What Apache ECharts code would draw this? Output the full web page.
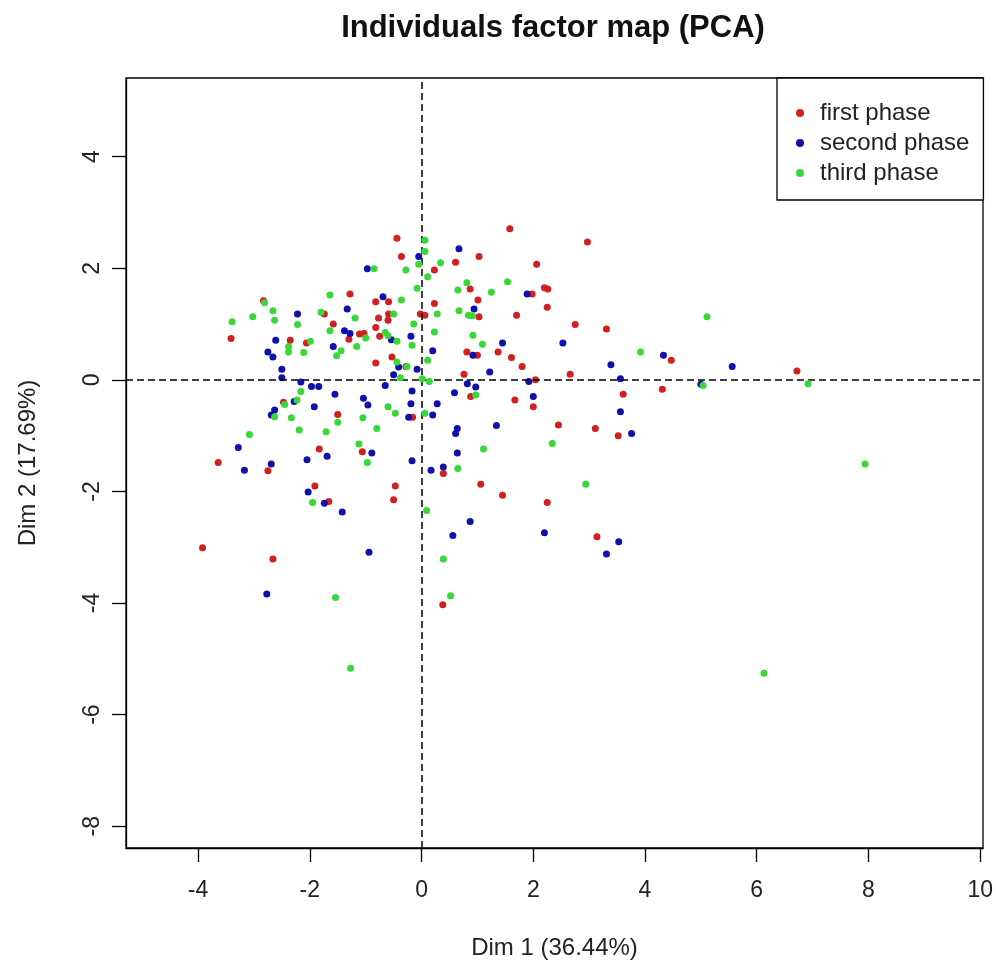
<!DOCTYPE html>
<html>
<head>
<meta charset="utf-8">
<script src="https://cdn.jsdelivr.net/npm/echarts@6/dist/echarts.min.js"></script>
<style>html,body{margin:0;padding:0;background:#fff;}#c{width:996px;height:969px;}</style>
</head>
<body>
<div id="c"></div>
<script>
const titleText = 'Individuals factor map (PCA)';
const xName = 'Dim 1 (36.44%)';
const yName = 'Dim 2 (17.69%)';
const seriesNames = ['first phase', 'second phase', 'third phase'];
const xTicks = [-4, -2, 0, 2, 4, 6, 8, 10];
const yTicks = [-8, -6, -4, -2, 0, 2, 4];

const firstPhase = [
  [-1.28,1.54],[-0.82,1.40],[-2.83,1.42],[-1.74,1.18],[-1.58,1.00],[-1.11,0.82],[-1.03,0.83],[-1.30,0.73],
  [-0.82,0.94],[-3.41,0.74],[-2.35,0.71],[-2.06,0.66],[-0.82,0.30],
  [1.58,2.71],[-0.44,2.54],[-0.36,2.21],[1.03,2.21],[0.61,2.11],[0.23,1.97],[2.06,2.07],[0.87,1.63],
  [2.20,1.65],[2.26,1.63],[1.98,1.54],[-0.59,1.40],[0.23,1.37],[1.01,1.43],[2.25,1.30],[-0.02,1.18],
  [0.06,1.16],[1.03,1.13],[-0.59,1.18],[-0.77,1.11],[-0.60,1.07],[1.70,1.16],[-0.75,0.78],[0.81,0.50],
  [1.00,0.44],[1.37,0.50],[1.61,0.40],[-0.53,0.41],[-0.28,0.24],[1.80,0.24],[0.76,0.10],[2.04,0.00],
  [0.88,-0.30],[1.67,-0.36],
  [2.97,2.47],[2.75,0.99],[3.31,0.91],[4.47,0.35],[2.66,0.10],[4.31,-0.17],[3.61,-0.26],
  [6.72,0.16],
  [-2.47,-0.40],[-1.50,-0.62],[-1.06,-1.29],[-1.83,-1.24],[-3.64,-1.48],[-2.75,-1.63],[-1.91,-1.90],
  [-1.66,-2.18],[-3.92,-3.01],[-2.66,-3.21],
  [-0.16,-0.67],[2.00,-0.48],[0.39,-1.68],[-0.47,-1.90],[-0.50,-2.15],[1.06,-1.87],[1.45,-2.07],[2.25,-2.20],
  [2.45,-0.81],[3.11,-0.87],[3.52,-1.00],[3.14,-2.81],
  [0.38,-4.03]
];

const secondPhase = [
  [-0.97,1.99],[-2.22,1.18],[-1.33,1.27],[-1.38,0.88],[-1.28,0.83],[-2.61,0.71],[-2.75,0.50],[-2.66,0.41],
  [-1.58,0.60],[-2.50,0.19],[-2.50,0.04],[-2.16,-0.04],[-1.97,-0.12],[-1.84,-0.12],[-1.55,-0.26],[-1.04,-0.33],
  [0.67,2.35],[-0.05,2.21],[1.89,1.54],[-0.69,1.49],[0.94,1.27],[-0.54,0.72],[-0.19,0.78],[1.45,0.66],
  [0.20,0.52],[0.92,0.44],[-0.41,0.23],[-0.08,0.19],[-0.50,0.09],[1.22,0.14],[-0.65,-0.10],[0.82,-0.07],
  [0.97,-0.13],[1.92,-0.03],[-0.17,-0.20],[0.59,-0.23],[2.00,-0.30],
  [2.53,0.66],[4.33,0.44],[3.39,0.27],[3.56,0.02],[5.56,0.24],[5.00,-0.08],
  [-2.63,-0.54],[-2.69,-0.63],[-2.28,-0.39],[-1.92,-0.48],[-0.96,-0.45],[-3.28,-1.21],[-0.89,-1.31],
  [-1.69,-1.37],[-2.05,-1.43],[-3.17,-1.62],[-2.69,-1.51],[-2.03,-2.01],[-1.74,-2.21],[-1.42,-2.37],[-0.94,-3.09],
  [-0.19,-0.43],[-0.23,-0.67],[0.28,-0.43],[0.20,-0.63],[0.64,-0.87],[0.61,-0.96],[1.34,-0.82],[0.64,-1.31],
  [-0.17,-1.45],[0.17,-1.62],[0.39,-1.56],[0.87,-2.54],[0.56,-2.79],[2.20,-2.74],
  [3.56,-0.57],[3.76,-0.96],[3.53,-2.90],[3.31,-3.12],
  [-2.77,-3.84]
];

const thirdPhase = [
  [-0.85,1.99],[-1.64,1.52],[-2.81,1.38],[-2.66,1.24],[-3.02,1.13],[-3.39,1.04],[-2.63,1.07],[-2.22,0.99],
  [-1.80,1.21],[-1.19,1.11],[-1.64,0.88],[-1.00,0.75],[-2.38,0.60],[-2.38,0.50],[-1.99,0.69],[-2.11,0.49],
  [-1.44,0.52],[-1.52,0.43],[-1.16,0.60],[-2.16,-0.21],
  [0.06,2.50],[0.06,2.30],[-0.05,2.07],[0.34,2.10],[-0.28,1.97],[0.11,1.85],[1.54,1.76],[0.81,1.74],
  [0.65,1.61],[1.25,1.57],[-0.08,1.64],[-0.36,1.43],[0.67,1.24],[0.28,1.18],[0.84,1.16],[0.91,1.15],
  [-0.50,1.18],[-0.14,1.00],[-0.65,0.85],[-0.60,0.79],[-0.44,0.69],[0.23,0.86],[0.92,0.80],[-0.17,0.62],
  [1.09,0.64],[0.11,0.35],[-0.44,0.32],[-0.26,0.24],[-0.38,0.04],[0.01,0.02],[0.14,-0.03],[0.97,-0.27],
  [5.11,1.13],[3.92,0.50],[5.04,-0.10],
  [6.92,-0.07],[7.94,-1.51],
  [-2.45,-0.44],[-2.23,-0.36],[-2.63,-0.66],[-2.33,-0.68],[-1.50,-0.76],[-1.05,-0.68],[-2.19,-0.90],
  [-1.71,-0.93],[-3.08,-0.98],[-1.12,-1.15],[-0.97,-1.48],[-1.95,-2.20],[-0.80,-0.87],
  [-0.60,-0.48],[-0.47,-0.60],[0.06,-0.60],[1.11,-1.24],[2.34,-1.14],[0.65,-1.59],[0.09,-2.34],[0.39,-3.21],
  [2.94,-1.87],
  [-1.54,-3.90],[-1.27,-5.17],[0.52,-3.87],[6.13,-5.26]
];

const colors = ['#d21f1f', '#0f0fae', '#38d838'];
const fontFam = '"Liberation Sans", Arial, sans-serif';

const chart = echarts.init(document.getElementById('c'), null, {renderer: 'canvas'});
const seriesData = [firstPhase, secondPhase, thirdPhase];
const series = seriesData.map((d, i) => ({
  name: seriesNames[i],
  type: 'scatter',
  data: d,
  symbol: 'circle',
  symbolSize: 7,
  itemStyle: {color: colors[i], opacity: 1},
  emphasis: {disabled: true},
  animation: false,
  z: 3 + i
}));
series[0].markLine = {
  silent: true,
  symbol: ['none', 'none'],
  label: {show: false},
  animation: false,
  lineStyle: {type: [7, 4], color: '#000', width: 1.5},
  emphasis: {disabled: true},
  data: [{xAxis: 0}, {yAxis: 0}]
};

chart.setOption({
  backgroundColor: '#fff',
  animation: false,
  title: {
    text: titleText,
    left: 548, textAlign: 'center', top: 8,
    textStyle: {fontFamily: fontFam, fontSize: 31, fontWeight: 'bold', color: '#111'}
  },
  legend: {
    orient: 'vertical',
    left: 777, top: 78,
    padding: [23, 14, 15, 19],
    itemGap: 6,
    itemWidth: 8, itemHeight: 8,
    icon: 'circle',
    borderColor: '#000', borderWidth: 1.3,
    backgroundColor: '#fff',
    textStyle: {fontFamily: fontFam, fontSize: 24, lineHeight: 22, color: '#222', padding: [0, 0, 0, 11]},
    data: seriesNames,
    selectedMode: false
  },
  grid: {
    left: 126, right: 12, top: 78, bottom: 121,
    show: true, borderColor: '#000', borderWidth: 1.3, backgroundColor: 'transparent'
  },
  xAxis: {
    type: 'value', min: -5.29, max: 10.05,
    name: xName, nameLocation: 'middle', nameGap: 88,
    nameTextStyle: {fontFamily: fontFam, fontSize: 24, color: '#222'},
    axisLine: {show: true, onZero: false, lineStyle: {color: '#000', width: 1.3}},
    axisTick: {show: true, length: 14, lineStyle: {color: '#000', width: 1.3}, customValues: xTicks},
    axisLabel: {fontFamily: fontFam, fontSize: 23, color: '#222', margin: 31, customValues: xTicks},
    splitLine: {show: false}
  },
  yAxis: {
    type: 'value', min: -8.39, max: 5.41,
    name: yName, nameLocation: 'middle', nameGap: 86, nameRotate: 90,
    nameTextStyle: {fontFamily: fontFam, fontSize: 24, color: '#222'},
    axisLine: {show: true, onZero: false, lineStyle: {color: '#000', width: 1.3}},
    axisTick: {show: true, length: 14, lineStyle: {color: '#000', width: 1.3}, customValues: yTicks},
    axisLabel: {fontFamily: fontFam, fontSize: 23, color: '#222', margin: 22, rotate: 90, customValues: yTicks},
    splitLine: {show: false}
  },
  series: series
});
</script>
</body>
</html>
